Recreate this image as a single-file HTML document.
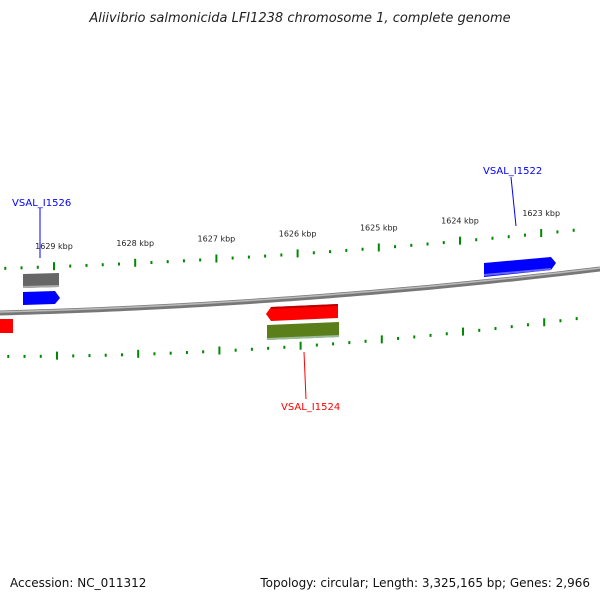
<!DOCTYPE html>
<html><head><meta charset="utf-8"><style>
html,body{margin:0;padding:0;background:#fff;}
svg{display:block;font-family:"DejaVu Sans","Liberation Sans",sans-serif;}
</style></head><body>
<svg id="map" width="600" height="600" viewBox="0 0 600 600">
<defs>
<linearGradient id="gb" x1="0" y1="0" x2="0" y2="1"><stop offset="0" stop-color="#444"/><stop offset="0.5" stop-color="#999"/><stop offset="1" stop-color="#555"/></linearGradient>
</defs>
<text x="300" y="22" text-anchor="middle" font-size="13" font-style="italic" fill="#222">Aliivibrio salmonicida LFI1238 chromosome 1, complete genome</text>
<text x="10" y="587" font-size="12" fill="#111">Accession: NC_011312</text>
<text x="590" y="587" text-anchor="end" font-size="12" fill="#111">Topology: circular; Length: 3,325,165 bp; Genes: 2,966</text>
<g id="g"></g>
</svg>
<script>
const majorKbp = [1629, 1628, 1627, 1626, 1625, 1624, 1623];
const minorKbp = [1630.2,1630.0,1629.8,1629.6,1629.4,1629.2,1628.8,1628.6,1628.4,1628.2,1627.8,1627.6,1627.4,1627.2,1626.8,1626.6,1626.4,1626.2,1625.8,1625.6,1625.4,1625.2,1624.8,1624.6,1624.4,1624.2,1623.8,1623.6,1623.4,1623.2,1622.8,1622.6];
const geneNames = ["VSAL_I1526", "VSAL_I1522", "VSAL_I1524"];

const NS = "http://www.w3.org/2000/svg";
const g = document.getElementById("g");
function xOf(k){ return 54 + (1629 - k) * 81.2; }
function quad(x, y0, y1, y2){ const t = x/600; return y0*(1-t)*(1-t) + 2*y1*t*(1-t) + y2*t*t; }
function outerY(x){ return quad(x, 268, 259, 227); }
function innerY(x){ return quad(x, 356, 356, 315); }
function backY(x){ return quad(x, 313, 305, 269); }
function mk(tag, attrs, parent){ const e = document.createElementNS(NS, tag); for (const k in attrs) e.setAttribute(k, attrs[k]); (parent||g).appendChild(e); return e; }

// backbone
let d = "";
for (let x = 0; x <= 600; x += 10) d += (x ? "L" : "M") + x + "," + backY(x).toFixed(1);
const bb = mk("path", {d: d, stroke: "#777", "stroke-width": 5, fill: "none"});


mk("path", {d: d, stroke: "#bbb", "stroke-width": 1.5, fill: "none", transform: "translate(0,-1)"});

majorKbp.forEach(k => {
  const x = xOf(k);
  const t = mk("line", {x1: x, y1: outerY(x)-4, x2: x, y2: outerY(x)+4, stroke: "#080", "stroke-width": 2});
  
  
  const xi = x + 3;
  const t2 = mk("line", {x1: xi, y1: innerY(xi)-4, x2: xi, y2: innerY(xi)+4, stroke: "#080", "stroke-width": 2});
  
  
  const lb = mk("text", {x: x, y: outerY(x)-17, "text-anchor": "middle", "font-size": 8, fill: "#222"});
  lb.textContent = k + " kbp";
  
  
});
minorKbp.forEach(k => {
  const x = xOf(k);
  if (x >= 0 && x <= 600) {
    const m = mk("rect", {x: x-1, y: outerY(x)-1, width: 2, height: 3, fill: "#080"});
    
    
  }
  const xi = x + 3;
  if (xi >= 0 && xi <= 600) {
    const m2 = mk("rect", {x: xi-1, y: innerY(xi)-1, width: 2, height: 3, fill: "#080"});
    
    
  }
});

function gene(name, pts, fill, hi){
  const p = mk("polygon", {points: pts, fill: fill});
  
  
}
gene("gene-grey-box", "23,274 59,273 59,287 23,288", "#666");
mk("line",{x1:23,y1:287,x2:59,y2:286,stroke:"#aaa","stroke-width":2});
gene("gene-blue-arrow-left", "23,292 55,291 60,298 55,304 23,305", "#00f");
gene("gene-red-left-edge", "0,319 13,319 13,333 0,333", "#f00");
gene("gene-red-arrow", "271,307 338,304 338,318 271,321 266,314", "#f00");
mk("line",{x1:271,y1:308,x2:338,y2:305,stroke:"#b00","stroke-width":2});
gene("gene-olive-box", "267,325 339,322 339,337 267,340", "#5a7f1a");
mk("line",{x1:267,y1:339,x2:339,y2:336,stroke:"#9b9","stroke-width":2});
gene("gene-blue-arrow-right", "484,263 551,257 556,263 551,270 484,277", "#00f");
mk("line",{x1:484,y1:275,x2:551,y2:269,stroke:"#66f","stroke-width":2});

function label(name, x, y, color, lx1, ly1, lx2, ly2){
  const l = mk("line", {x1: lx1, y1: ly1, x2: lx2, y2: ly2, stroke: color, "stroke-width": 1});
  
  
  const t = mk("text", {x: x, y: y, "font-size": 10, fill: color});
  t.textContent = name;
  
  
}
label(geneNames[0], 12, 206, "#00f", 40, 208, 40, 258);
label(geneNames[1], 483, 174, "#00f", 511, 177, 516, 226);
label(geneNames[2], 281, 410, "#f00", 304, 352, 306, 399);
</script>
</body></html>
